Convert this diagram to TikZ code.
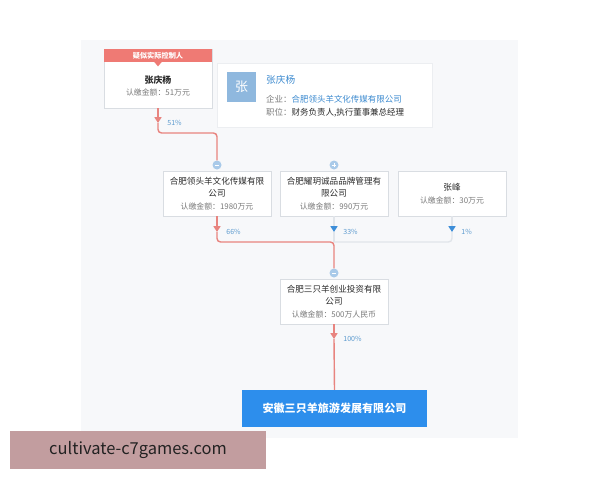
\documentclass[tikz,border=0pt]{standalone}
\usepackage{fontspec}
\setmainfont{Noto Sans CJK SC}
\usepackage{xcolor}
\usepackage{tikz}
\usetikzlibrary{arrows.meta,positioning}

\definecolor{panelbg}{HTML}{F7F8FA}
\definecolor{boxline}{HTML}{D9DDE2}
\definecolor{cardline}{HTML}{ECEEF1}
\definecolor{flowred}{HTML}{E8847F}
\definecolor{flowgrey}{HTML}{E1E5EA}
\definecolor{hdrred}{HTML}{EF7A74}
\definecolor{tipblue}{HTML}{3E8ED8}
\definecolor{circblue}{HTML}{A9CAE9}
\definecolor{avatarblue}{HTML}{8FB8DE}
\definecolor{nameblue}{HTML}{3D8BD0}
\definecolor{finalblue}{HTML}{2D8EEC}
\definecolor{txt}{HTML}{2A2A2A}
\definecolor{amtgray}{HTML}{7A7A7A}
\definecolor{pctblue}{HTML}{5D9BCF}
\definecolor{wmrose}{HTML}{C29D9F}
\definecolor{wmtext}{HTML}{222222}

\newcommand{\amt}[1]{{\fontsize{6.7}{10}\selectfont\color{amtgray}#1}}

\begin{document}
\begin{tikzpicture}[x=0.85pt,y=-0.85pt,
  card/.style={draw=boxline,fill=white,line width=0.6pt,inner sep=0pt,align=center},
  holder/.style={card,minimum width=91.8pt,minimum height=38.25pt,
    font=\fontsize{7.3}{10.6}\selectfont,text=txt},
  pct/.style={font=\fontsize{6}{7}\selectfont,text=pctblue,anchor=west,xshift=4pt},
  toggle/.style={circle,fill=circblue,minimum size=7.65pt,inner sep=0pt},
  minus/.style={toggle,path picture={
    \draw[white,line width=0.8pt] ([xshift=-2pt]path picture bounding box.center)
      -- ([xshift=2pt]path picture bounding box.center);}},
  plus/.style={toggle,path picture={
    \draw[white,line width=0.8pt] ([xshift=-2pt]path picture bounding box.center)
      -- ([xshift=2pt]path picture bounding box.center)
      ([yshift=-2pt]path picture bounding box.center)
      -- ([yshift=2pt]path picture bounding box.center);}},
  redflow/.style={draw=flowred,line width=1.2pt},
  greyflow/.style={draw=flowgrey,line width=1.2pt},
  redtip/.style={-{Triangle[width=6pt,length=5pt,color=flowred]}},
  bluetip/.style={-{Triangle[width=6pt,length=5pt,color=tipblue]}}]

  \useasboundingbox (0,0) rectangle (600,480);
  \fill[white] (0,0) rectangle (600,480);
  \fill[panelbg] (81,40) rectangle (518,438);

  % suspected controller
  \node[card,minimum width=91.8pt,minimum height=50.15pt] (zqy) at (158,78.5) {};
  \node[fill=hdrred,minimum width=91.8pt,minimum height=11.05pt,inner sep=0pt,
    text=white,font=\bfseries\fontsize{6.1}{7}\selectfont] (hdr) at (158,55.5) {疑似实际控制人};
  \fill[hdrred] ([xshift=-3pt]hdr.south) -- ([xshift=3pt]hdr.south)
    -- ([yshift=-3.5pt]hdr.south) -- cycle;
  \node[text=txt,font=\bfseries\fontsize{7.6}{9}\selectfont] (zqyname) at (158,80) {张庆杨};
  \node (zqyamt) at (158,92) {\amt{认缴金额：51万元}};

  % info card
  \node[card,draw=cardline,minimum width=182.75pt,minimum height=54.4pt] (info) at (324.5,95) {};
  \node[fill=avatarblue,minimum width=24.65pt,minimum height=25.5pt,inner sep=0pt,
    text=white,font=\fontsize{11}{12}\selectfont] (avatar) at (241.5,87) {张};
  \node[anchor=west,inner sep=0pt,text=nameblue,font=\fontsize{8.2}{9}\selectfont]
    (infoname) at (266,80) {张庆杨};
  \node[anchor=west,inner sep=0pt,font=\fontsize{7.2}{9}\selectfont] (infofirm) at (266,99)
    {\textcolor{amtgray}{企业：}\textcolor{nameblue}{合肥领头羊文化传媒有限公司}};
  \node[anchor=west,inner sep=0pt,font=\fontsize{7.2}{9}\selectfont] (infopost) at (266,113)
    {\textcolor{amtgray}{职位：}\textcolor{txt}{财务负责人,执行董事兼总经理}};

  % shareholders
  \node[holder] (lts) at (217,193.5) {合肥领头羊文化传媒有限\\公司\\\amt{认缴金额：1980万元}};
  \node[holder] (yyc) at (334,193.5) {合肥耀玥诚品品牌管理有\\限公司\\\amt{认缴金额：990万元}};
  \node[holder] (zf) at (452,193.5) {张峰\\\amt{认缴金额：30万元}};
  \node[holder] (szy) at (334,301.5) {合肥三只羊创业投资有限\\公司\\\amt{认缴金额：500万人民币}};
  \node[fill=finalblue,minimum width=157.25pt,minimum height=31.45pt,inner sep=0pt,
    text=white,font=\bfseries\fontsize{9.4}{11}\selectfont] (lvyou) at (334.5,408.5)
    {安徽三只羊旅游发展有限公司};

  \node[minus] (tgla) at (217,165) {};
  \node[plus] (tglb) at (334,165) {};
  \node[minus] (tgld) at (334,273) {};

  % flows
  \coordinate (t51) at (158,123);
  \coordinate (t66) at (217,232);
  \coordinate (t33) at (334,232);
  \coordinate (t1) at (452,232);
  \coordinate (jn) at (334,242);
  \coordinate (t100) at (334,339);

  \draw[greyflow,bluetip] (yyc.south) -- (t33) node[pct]{33\%};
  \draw[greyflow] (t33) -- (jn);
  \draw[greyflow,bluetip] (zf.south) -- (t1) node[pct]{1\%};
  \draw[greyflow,rounded corners=3pt] (t1) |- (jn);

  \draw[redflow,redtip] (zqy.south) -- (t51) node[pct]{51\%};
  \draw[redflow,rounded corners=3pt] (t51) -- ++(0,10) -| (tgla.north);
  \draw[redflow,redtip] (lts.south) -- (t66) node[pct]{66\%};
  \draw[redflow,rounded corners=3pt] (t66) |- (jn) -- (tgld.north);
  \draw[redflow,redtip] (szy.south) -- (t100) node[pct]{100\%};
  \draw[redflow] (t100) -- (lvyou.north);

  % watermark
  \node[fill=wmrose,minimum width=217.6pt,minimum height=32.3pt,inner sep=0pt,
    text=wmtext,font=\fontsize{14}{16}\selectfont] (wm) at (138,450) {cultivate-c7games.com};
\end{tikzpicture}
\end{document}
